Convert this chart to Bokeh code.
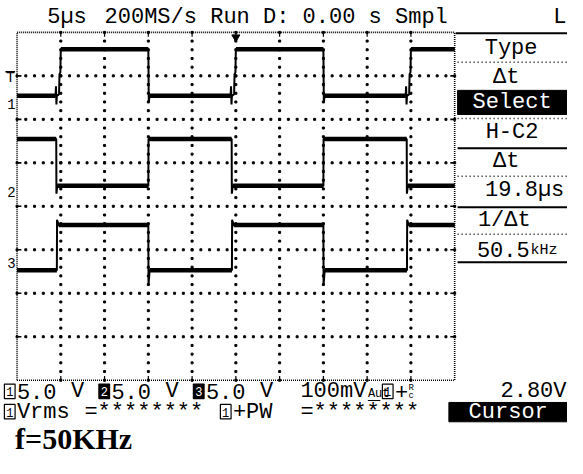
import numpy as np
from bokeh.plotting import figure
from bokeh.models import Range1d
from bokeh.embed import file_html
from bokeh.resources import INLINE
from bokeh.core.properties import value

# ---------------- scope settings ----------------
TIME_PER_DIV = 5.0      # µs / div
VOLTS_PER_DIV = 5.0     # V / div
N_XDIV, N_YDIV = 10, 8

# ---------------- channel traces: time (µs), level (V) ----------------
ch1_t = [0.0, 4.40, 4.45, 4.50, 4.55, 4.80, 4.85, 4.95, 5.00, 15.00, 15.05, 15.15,
         24.40, 24.45, 24.50, 24.55, 24.80, 24.85, 24.95, 25.00, 35.00, 35.05, 35.15,
         44.40, 44.45, 44.50, 44.55, 44.80, 44.85, 44.95, 45.00, 50.0]
ch1_v = [0.9, 0.9, 2.0, -0.1, 0.9, 1.1, 3.4, 3.6, 6.25, 6.25, 0.2, 0.9,
         0.9, 2.0, -0.1, 0.9, 1.1, 3.4, 3.6, 6.25, 6.25, 0.2, 0.9,
         0.9, 2.0, -0.1, 0.9, 1.1, 3.4, 3.6, 6.25, 6.25]

ch2_t = [0.0, 4.48, 4.50, 4.60, 15.00, 15.02, 24.52, 24.54, 24.64, 35.00, 35.02,
         44.52, 44.54, 44.64, 50.0]
ch2_v = [6.1, 6.1, -0.2, 0.7, 0.7, 6.1, 6.1, -0.2, 0.7, 0.7, 6.1,
         6.1, -0.2, 0.7, 0.7]

ch3_t = [0.0, 4.55, 4.57, 4.75, 15.00, 15.02, 15.15, 24.55, 24.57, 24.75, 35.00,
         35.02, 35.15, 44.55, 44.57, 44.75, 50.0]
ch3_v = [-0.8, -0.8, 5.0, 4.4, 4.4, -2.5, -0.8, -0.8, 5.0, 4.4, 4.4,
         -2.5, -0.8, -0.8, 5.0, 4.4, 4.4]

ch_names = ["1", "2", "3"]
ch_ground_div = [2.36, 0.33, -1.31]   # ground markers, divisions above centre
trigger_level_v = 3.0                 # ch1 trigger level
trigger_time = 25.0                   # trigger position (µs)

# ---------------- texts ----------------
hdr_sweep = "5µs"
hdr_info = "200MS/s Run D: 0.00 s Smpl"
hdr_mode = "L"
menu_labels = ["Type", "Δt", "Select", "H-C2", "Δt", "19.8µs", "1/Δt", "50.5"]
menu_unit = "kHz"
ch_scale = ["5.0", "5.0", "5.0"]
caption = "f=50KHz"

# ---------------- page geometry ----------------
W, H = 567, 458
REF_W, REF_H = 583, 474
GX0, GY0, DIV = 17.0, 33.0, 45.0          # screen grid origin / div size (reference px)
SX = W / REF_W

def X(px):
    return (px - GX0) / DIV * TIME_PER_DIV

def Y(py):
    return (GY0 + DIV * N_YDIV / 2 - py) / DIV

p = figure(width=W, height=H, output_backend="svg", toolbar_location=None,
           x_axis_type=None, y_axis_type=None, min_border=0,
           x_range=Range1d(X(0), X(REF_W)), y_range=Range1d(Y(REF_H), Y(0)))
p.outline_line_color = None
p.background_fill_color = "white"
p.border_fill_color = "white"

MONO = value("Liberation Mono")

def txt(px, py, s, size=22, align="left", color="black", font=MONO, style="normal"):
    p.text(x=[X(px)], y=[Y(py)], text=[s], text_font=font, text_font_size=f"{size}px",
           text_align=align, text_baseline="middle", text_color=color,
           text_font_style=style)

def box(x0, x1, y0, y1, fill=True, lw=1):
    p.quad(left=[X(x0)], right=[X(x1)], top=[Y(y0)], bottom=[Y(y1)],
           fill_color="black" if fill else None, line_color="black", line_width=lw)

def hline(x0, x1, py, dash="solid", lw=2):
    p.line(x=[X(x0), X(x1)], y=[Y(py), Y(py)], line_color="black", line_width=lw,
           line_dash=dash)

# ---------------- graticule ----------------
t_max = N_XDIV * TIME_PER_DIV
d_max = N_YDIV / 2
# dotted gridlines: 5 dots per division
sub = np.arange(0, N_XDIV * 5 + 1) / 5 * TIME_PER_DIV
subv = np.arange(-N_YDIV * 5 // 2, N_YDIV * 5 // 2 + 1) / 5
gx, gy = [], []
for k in range(1, N_XDIV):
    for v in subv:
        gx.append(k * TIME_PER_DIV); gy.append(v)
for k in range(1, N_YDIV):
    for t in sub:
        gx.append(t); gy.append(-d_max + k)
p.scatter(gx, gy, marker="square", size=2, color="black")

# border (densely dotted)
p.line(x=[0, t_max, t_max, 0, 0], y=[-d_max, -d_max, d_max, d_max, -d_max],
       line_color="black", line_width=1.6, line_dash="1 1")
# border ticks
tk = 4.5 / DIV
xt = [k * TIME_PER_DIV for k in range(1, N_XDIV)]
p.segment(x0=xt, y0=[d_max] * len(xt), x1=xt, y1=[d_max - tk] * len(xt), color="black", line_width=1.2)
p.segment(x0=xt, y0=[-d_max] * len(xt), x1=xt, y1=[-d_max + tk] * len(xt), color="black", line_width=1.2)
yt = [-d_max + k for k in range(1, N_YDIV)]
tkx = 4.5 / DIV * TIME_PER_DIV
p.segment(x0=[0] * len(yt), y0=yt, x1=[tkx] * len(yt), y1=yt, color="black", line_width=1.6)
p.segment(x0=[t_max] * len(yt), y0=yt, x1=[t_max - tkx] * len(yt), y1=yt, color="black", line_width=1.6)
# trigger position marker
p.scatter([trigger_time], [d_max - 5 / DIV], marker="inverted_triangle", size=8, color="black")

# ---------------- traces ----------------
for tt, vv, g in [(ch1_t, ch1_v, ch_ground_div[0]), (ch2_t, ch2_v, ch_ground_div[1]),
                  (ch3_t, ch3_v, ch_ground_div[2])]:
    yy = [g + v / VOLTS_PER_DIV for v in vv]
    p.line(tt, yy, line_color="black", line_width=2)
    # plateaus are drawn thicker (noisy trace)
    xs0, ys0, xs1 = [], [], []
    for i in range(len(tt) - 1):
        if vv[i] == vv[i + 1] and tt[i + 1] - tt[i] > 0.5:
            xs0.append(tt[i]); xs1.append(tt[i + 1]); ys0.append(yy[i])
    p.segment(x0=xs0, y0=ys0, x1=xs1, y1=ys0, line_color="black", line_width=4.5)

# channel ground markers and trigger level marker
for name, g in zip(ch_names, ch_ground_div):
    p.text(x=[X(7)], y=[g], text=[name], text_font=MONO, text_font_size="14px",
           text_align="left", text_baseline="middle", text_color="black")
ty = ch_ground_div[0] + trigger_level_v / VOLTS_PER_DIV
p.text(x=[X(6)], y=[ty], text=["T"], text_font=MONO, text_font_size="14px",
       text_align="left", text_baseline="middle", text_color="black")
p.segment(x0=[X(5)], y0=[ty + 6 / DIV], x1=[X(15)], y1=[ty + 6 / DIV], color="black", line_width=1.5)

# ---------------- header ----------------
txt(48, 18, hdr_sweep)
txt(107, 18, hdr_info)
txt(582, 18, hdr_mode, align="right")

# ---------------- right menu ----------------
hline(468, REF_W, 34)
for y in [153, 214, 271]:
    hline(470, REF_W, y)
for y in [64, 122, 182, 242]:
    hline(470, REF_W, y, dash="1 3", lw=1.5)
box(470, REF_W + 2, 93, 118)
menu_pos = [(525, 50), (520, 80), (526, 106), (526, 137), (520, 167), (539, 197), (518, 228), (517, 258)]
for i, (lab, (mx, my)) in enumerate(zip(menu_labels, menu_pos)):
    txt(mx, my, lab, align="center", color="white" if lab == "Select" else "black")
txt(545, 259, menu_unit, size=15)

# ---------------- bottom status rows ----------------
CW, C0 = 13.88, 3.0
def col(c):
    return C0 + c * CW

R1, R2 = 405, 426

def chbox(c, ry, d, filled):
    box(col(c) + 1, col(c) + 12, ry - 8, ry + 7, fill=filled, lw=1.2)
    txt(col(c) + 6.5, ry, d, size=12, align="center", color="white" if filled else "black")

for i, (c0, filled) in enumerate([(0, False), (7, True), (14, True)]):
    chbox(c0, R1, ch_names[i], filled)
    txt(col(c0 + 1), R1, ch_scale[i])
    txt(col(c0 + 5), R1, "V")
txt(col(22), R1, "100mV")
txt(col(27), R1 + 2, "Aut", size=12)
hline(col(27), col(28) - 1, R1 + 9, lw=1)
chbox(28, R1, "1", False)
txt(col(29), R1, "+")
txt(col(30), R1 - 4, "R", size=9)
txt(col(30), R1 + 4, "c", size=9)
txt(582, R1, "2.80V", align="right")

chbox(0, R2, "1", False)
txt(col(1), R2, "Vrms")
txt(col(6), R2, "=********")
chbox(16, R2, "1", False)
txt(col(17), R2, "+PW")
txt(col(22), R2, "=********")
box(col(33), REF_W + 2, R2 - 10, R2 + 10)
txt(522, R2, "Cursor", align="center", color="white")

# caption
txt(15, 453, caption, size=30, font=value("Liberation Serif"), style="bold")

open("out.html", "w").write(file_html(p, INLINE))
